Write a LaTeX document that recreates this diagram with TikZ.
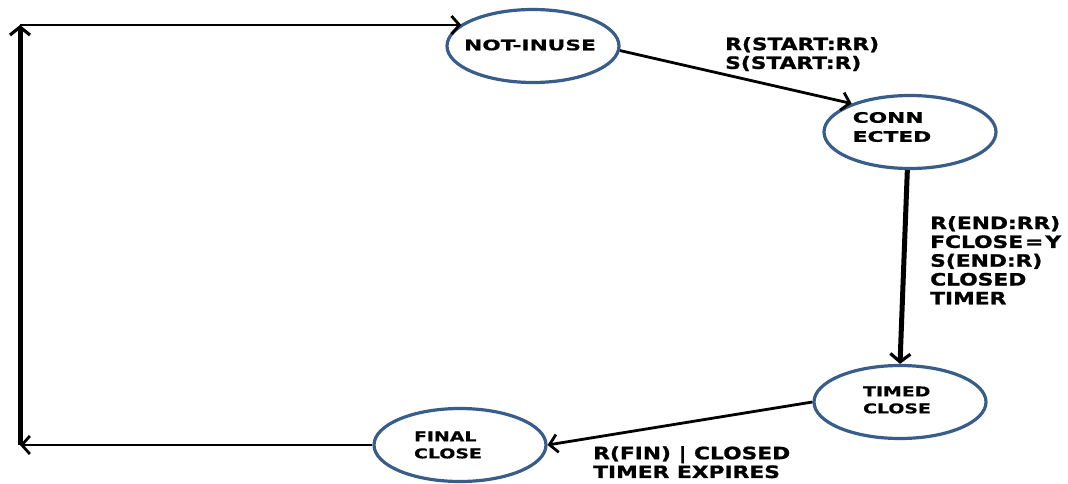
\documentclass[tikz,border=0pt]{standalone}
\usepackage{fontspec}
\usetikzlibrary{shapes.geometric,arrows.meta}
\newfontfamily\labfont[FakeStretch=1.28,FakeBold=1.2]{DejaVu Sans}
\newfontfamily\stfont[FakeStretch=1.5,FakeBold=0.6]{DejaVu Sans}
\newfontfamily\stsmallfont[FakeStretch=1.4,FakeBold=0.4]{DejaVu Sans}
\definecolor{ellblue}{RGB}{56,93,138}
\tikzset{
  state/.style={ellipse, draw=ellblue, line width=3.2pt, fill=white,
    minimum width=172pt, minimum height=73pt, inner sep=0pt},
  stext/.style={inner sep=0pt, align=left,
    font=\stfont\bfseries\fontsize{14.5}{19}\selectfont},
  ssmall/.style={inner sep=0pt, align=left,
    font=\stsmallfont\bfseries\fontsize{13.5}{17}\selectfont},
  lab/.style={anchor=north west, inner sep=0pt, align=left,
    font=\labfont\bfseries\fontsize{17}{18.8}\selectfont},
  conn/.style={line width=2.8pt, -{Straight Barb[length=8pt,width=18pt,line width=2.8pt]}},
  thickconn/.style={line width=5pt, -{Straight Barb[length=8pt,width=20pt,line width=3.2pt]}}
}
\begin{document}
\begin{tikzpicture}[x=1pt,y=-1pt]
\useasboundingbox (0,0) rectangle (1068,484);
\node[state] (ni) at (533,46) {};
\node[state] (co) at (910,132) {};
\node[state] (ti) at (900,402) {};
\node[state] (fi) at (460,445) {};
\node[stext] (nit) at (530,45) {NOT-INUSE};
\node[stext] (cot) at (892,127) {CONN\\ECTED};
\node[ssmall] (tit) at (897,400) {TIMED\\CLOSE};
\node[ssmall] (fit) at (448,445) {FINAL\\CLOSE};
\coordinate (bl) at (20,445);
\coordinate (tl) at (20,25);
\draw[conn] (ni.-3) -- (co.154);
\draw[thickconn] (co.-94) -- (ti.north);
\draw[conn] (ti.west) -- (fi.east);
\draw[conn] (fi.west) -- (bl);
\draw[thickconn] (bl) -- (tl);
\draw[conn] (tl) -- (tl -| ni.163);
\node[lab] (l1) at (725,37) {R(START:RR)\\S(START:R)};
\node[lab] (l2) at (930,216) {R(END:RR)\\FCLOSE\hspace{2pt}=\hspace{2pt}Y\\S(END:R)\\CLOSED\\TIMER};
\node[lab] (l3) at (593,446) {R(FIN) | CLOSED\\TIMER EXPIRES};
\end{tikzpicture}
\end{document}
